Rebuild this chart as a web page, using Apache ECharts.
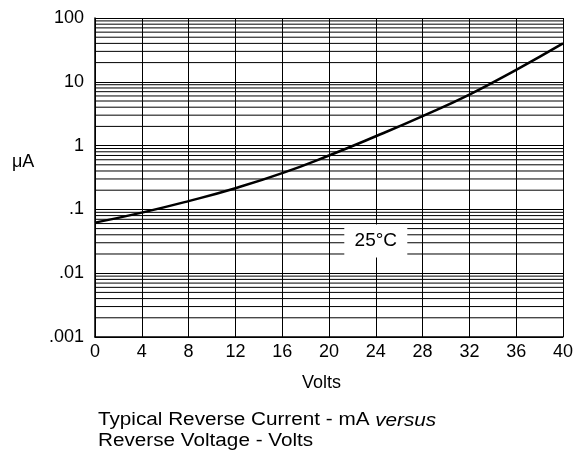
<!DOCTYPE html>
<html>
<head>
<meta charset="utf-8">
<script src="https://cdn.jsdelivr.net/npm/echarts@6/dist/echarts.min.js"></script>
<style>
  html, body { margin: 0; padding: 0; background: #fff; }
  #chart { width: 578px; height: 455px; }
</style>
</head>
<body>
<div id="chart"></div>
<script>
// reverse current vs reverse voltage, 25 C
const volts = [0, 4, 8, 12, 16, 20, 24, 28, 32, 36, 40];
const microAmps = [0.062, 0.089, 0.135, 0.215, 0.37, 0.70, 1.4, 2.9, 6.3, 15.4, 40];
const yTickLabels = { 0.001: '.001', 0.01: '.01', 0.1: '.1', 1: '1', 10: '10', 100: '100' };
const minorDecades = [0.001, 0.01, 0.1, 1, 10];
const minorSteps = [2, 3, 4, 5, 6, 7, 8, 9];
const tempLabel = { x: 24, y: 0.032, text: '25°C' };

const font = 'Liberation Sans, Arial, sans-serif';

// minor log grid lines (2..9 of each decade), each one drawn across the full x range
const gridSeries = [];
minorDecades.forEach(d => {
    minorSteps.forEach(s => {
        const v = +(s * d).toPrecision(3);
        gridSeries.push({
            type: 'line',
            silent: true,
            symbol: 'none',
            data: [[volts[0], v], [volts[volts.length - 1], v]],
            lineStyle: { color: '#000', width: 1 },
            z: 1
        });
    });
});

const chart = echarts.init(document.getElementById('chart'));
chart.setOption({
    animation: false,
    grid: { left: 95, right: 15, top: 18, bottom: 118 },
    xAxis: {
        type: 'value',
        min: 0,
        max: 40,
        interval: 4,
        axisLine: { lineStyle: { color: '#000', width: 1.5 } },
        axisTick: { show: false },
        axisLabel: { color: '#000', fontSize: 18, fontFamily: font, margin: 6 },
        splitLine: { show: true, lineStyle: { color: '#000', width: 1 } }
    },
    yAxis: {
        type: 'log',
        logBase: 10,
        min: 0.001,
        max: 100,
        axisLine: { show: true, lineStyle: { color: '#000', width: 1.5 } },
        axisTick: { show: false },
        axisLabel: {
            color: '#000', fontSize: 18, fontFamily: font, margin: 11,
            formatter: v => yTickLabels[+v.toPrecision(3)] || ''
        },
        splitLine: { show: true, lineStyle: { color: '#000', width: 1 } }
    },
    series: gridSeries.concat([
        {
            type: 'line',
            data: volts.map((v, i) => [v, microAmps[i]]),
            smooth: true,
            symbol: 'none',
            lineStyle: { color: '#000', width: 2.5 },
            z: 5,
            markPoint: {
                silent: true,
                symbol: 'rect',
                symbolSize: [63, 33],
                itemStyle: { color: '#fff' },
                label: {
                    show: true,
                    position: 'inside',
                    formatter: tempLabel.text,
                    color: '#000',
                    fontSize: 19,
                    fontFamily: font
                },
                data: [{ coord: [tempLabel.x, tempLabel.y] }]
            }
        }
    ]),
    graphic: [
        {
            type: 'text', left: 12, top: 153,
            style: { text: 'μA', fontSize: 18, fontFamily: font, fill: '#000' }
        },
        {
            type: 'text', left: 302, top: 374,
            style: { text: 'Volts', fontSize: 18, fontFamily: font, fill: '#000' }
        },
        {
            type: 'text', x: 98, y: 410, scaleX: 1.15,
            style: {
                text: '{n|Typical Reverse Current - mA }{i|versus}\n{n|Reverse Voltage - Volts}',
                fontSize: 18, fontFamily: font, fill: '#000', lineHeight: 21,
                rich: {
                    n: { fontSize: 18, fontFamily: font, lineHeight: 21 },
                    i: { fontSize: 18, fontFamily: font, fontStyle: 'italic', lineHeight: 21 }
                }
            }
        }
    ]
});
</script>
</body>
</html>
